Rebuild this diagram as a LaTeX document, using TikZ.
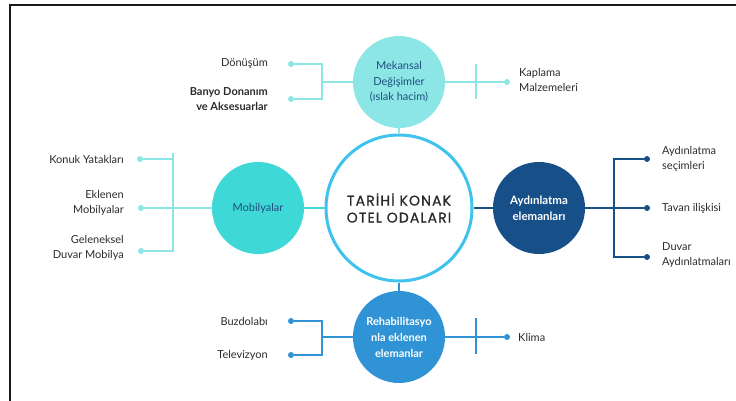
\documentclass[tikz,border=0pt]{standalone}
\usepackage{fontspec}
\setmainfont{Lato}
\newfontfamily\titlefont[LetterSpace=8,FakeBold=0.9]{Poppins}
\definecolor{ring}{HTML}{3FC3EE}
\definecolor{lcyan}{HTML}{8CE6E6}
\definecolor{turq}{HTML}{3ED9D6}
\definecolor{navy}{HTML}{175088}
\definecolor{midblue}{HTML}{2F93D5}
\definecolor{txtblue}{HTML}{1E4E7E}
\definecolor{txt}{HTML}{2B2B2B}
\begin{document}
\begin{tikzpicture}[x=1pt,y=-1pt,
  bub/.style={circle,minimum size=92pt,inner sep=0pt,align=center,font=\fontsize{11pt}{15.5pt}\selectfont},
  lbl/.style={align=right,anchor=east,text=txt,font=\fontsize{11pt}{15.5pt}\selectfont,inner sep=0pt},
  rlbl/.style={align=left,anchor=west,text=txt,font=\fontsize{11pt}{15.5pt}\selectfont,inner sep=0pt},
  dot/.style={circle,fill=#1,minimum size=6pt,inner sep=0pt},
  conn/.style={draw=#1,line width=1.8pt}]
\useasboundingbox (0,0) rectangle (736,401);
\draw[line width=2pt,color=black!90] (10,401) -- (10,5) -- (736,5);

% central circle
\node[circle,draw=ring,line width=3pt,fill=white,minimum size=146pt,inner sep=0pt,align=center,
  font=\titlefont\fontsize{14pt}{17pt}\selectfont,text=txt] (C) at (399,208) {TARİHİ KONAK\\OTEL ODALARI};

% satellites
\node[bub,fill=lcyan,text=txtblue] (M) at (399,82) {Mekansal\\Değişimler\\(ıslak hacim)};
\node[bub,fill=turq,text=txtblue] (B) at (258,208) {Mobilyalar};
\node[bub,fill=navy,text=white,font=\fontsize{11.5pt}{16pt}\selectfont\bfseries] (A) at (539,208) {Aydınlatma\\elemanları};
\node[bub,fill=midblue,text=white,font=\fontsize{11pt}{16pt}\selectfont\bfseries] (R) at (399,337) {Rehabilitasyo\\nla eklenen\\elemanlar};

% hub connectors
\draw[conn=lcyan] (M) -- (C);
\draw[conn=turq] (B) -- (C);
\draw[conn=navy] (C) -- (A);
\draw[conn=midblue] (C) -- (R);

% ---- top branch
\node[dot=lcyan] (m1) at (291,64) {};
\node[dot=lcyan] (m2) at (291,99) {};
\node[dot=lcyan] (m3) at (507,82) {};
\coordinate (mj) at (322,82);
\coordinate (mt) at (476,82);
\draw[conn=lcyan] (M.west) -- (mj);
\draw[conn=lcyan] (m1) -| (mj) |- (m2);
\draw[conn=lcyan] (M.east) -- (m3);
\draw[conn=lcyan] ([yshift=-17pt]mt) -- ([yshift=18pt]mt);
\node[lbl] (t1) at (268,64) {Dönüşüm};
\node[lbl,font=\fontsize{11pt}{15.5pt}\selectfont\bfseries] (t2) at (268,99) {Banyo Donanım\\ve Aksesuarlar};
\node[rlbl] (t3) at (519,80) {Kaplama\\Malzemeleri};

% ---- left branch
\node[dot=lcyan] (b1) at (140,159) {};
\node[dot=lcyan] (b2) at (141,208) {};
\node[dot=lcyan] (b3) at (141,251) {};
\coordinate (bj) at (173,208);
\coordinate (btop) at (173,153);
\draw[conn=lcyan] (B.west) -- (b2);
\draw[conn=lcyan] (btop) |- (b3);
\draw[conn=lcyan] (b1) -- (b1 -| bj);
\node[lbl] (t4) at (124,159) {Konuk Yatakları};
\node[lbl] (t5) at (124,203) {Eklenen\\Mobilyalar};
\node[lbl] (t6) at (124,248) {Geleneksel\\Duvar Mobilya};

% ---- right branch
\node[dot=navy] (a1) at (647,159) {};
\node[dot=navy] (a2) at (647,208) {};
\node[dot=navy] (a3) at (647,257) {};
\coordinate (aj) at (614,208);
\draw[conn=navy] (A.east) -- (a2);
\draw[conn=navy] (a1) -| (aj) |- (a3);
\node[rlbl] (t7) at (662,159) {Aydınlatma\\seçimleri};
\node[rlbl] (t8) at (662,208) {Tavan ilişkisi};
\node[rlbl] (t9) at (662,255) {Duvar\\Aydınlatmaları};

% ---- bottom branch
\node[dot=midblue] (r1) at (291,321) {};
\node[dot=midblue] (r2) at (291,355) {};
\node[dot=midblue] (r3) at (507,337) {};
\coordinate (rj) at (322,337);
\coordinate (rt) at (476,337);
\draw[conn=midblue] (R.west) -- (rj);
\draw[conn=midblue] (r1) -| (rj) |- (r2);
\draw[conn=midblue] (R.east) -- (r3);
\draw[conn=midblue] ([yshift=-17pt]rt) -- ([yshift=19pt]rt);
\node[lbl] (t10) at (268,321) {Buzdolabı};
\node[lbl] (t11) at (268,355) {Televizyon};
\node[rlbl] (t12) at (518,337) {Klima};
\end{tikzpicture}
\end{document}
